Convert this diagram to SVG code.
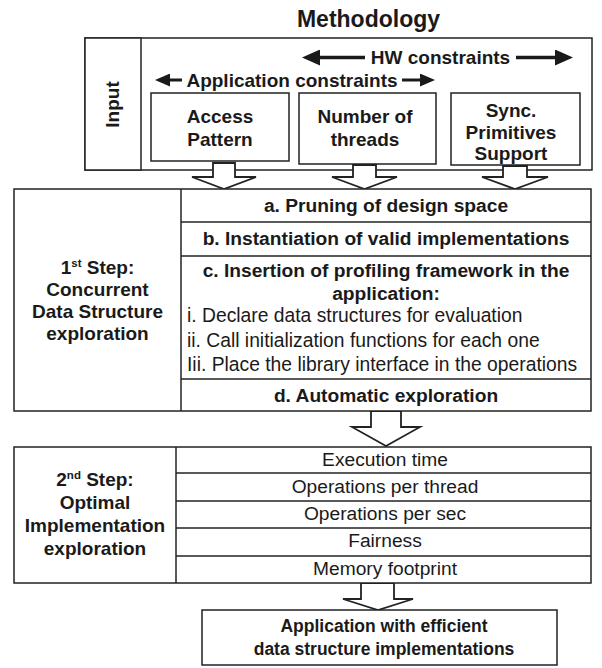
<svg xmlns="http://www.w3.org/2000/svg" width="602" height="668" viewBox="0 0 602 668">
<style>
.box{fill:#fff;stroke:#222;stroke-width:1.5}
.ln{stroke:#222;stroke-width:1.5;fill:none}
.ar{stroke:#1a1a1a;fill:none}
.blk{fill:#fff;stroke:#222;stroke-width:1.8;stroke-linejoin:miter}
.b{font-family:"Liberation Sans",Arial,sans-serif;font-weight:bold;fill:#1a1a1a;text-anchor:middle}
.r{font-family:"Liberation Sans",Arial,sans-serif;fill:#1a1a1a}
.c{text-anchor:middle}
</style>
<defs>
<marker id="big" viewBox="0 0 18 16" refX="10" refY="8" markerWidth="18" markerHeight="16" orient="auto-start-reverse" markerUnits="userSpaceOnUse"><path d="M0,0 L18,8 L0,16 Z" fill="#1a1a1a"/></marker>
<marker id="sml" viewBox="0 0 15 13" refX="8" refY="6.5" markerWidth="15" markerHeight="13" orient="auto-start-reverse" markerUnits="userSpaceOnUse"><path d="M0,0 L15,6.5 L0,13 Z" fill="#1a1a1a"/></marker>
</defs>
<rect width="602" height="668" fill="#fff"/>
<text class="b" x="368.5" y="27" font-size="23">Methodology</text>

<g id="input-panel">
<rect class="box" x="85" y="38" width="507" height="132"/>
<rect class="box" x="85" y="38" width="56" height="132"/>
<text class="b" font-size="19" transform="translate(119,104.5) rotate(-90)">Input</text>
</g>
<g id="hw-constraints">
<line class="ar" x1="310" y1="57.5" x2="365" y2="57.5" stroke-width="3.5" marker-start="url(#big)"/>
<line class="ar" x1="516" y1="57.5" x2="565" y2="57.5" stroke-width="3.5" marker-end="url(#big)"/>
<text class="b" x="440.5" y="64" font-size="19">HW constraints</text>
</g>
<g id="app-constraints">
<line class="ar" x1="162" y1="80" x2="182" y2="80" stroke-width="3" marker-start="url(#sml)"/>
<line class="ar" x1="402" y1="80" x2="428" y2="80" stroke-width="3" marker-end="url(#sml)"/>
<text class="b" x="292" y="86.5" font-size="19">Application constraints</text>
</g>
<g id="access-pattern">
<rect class="box" x="151" y="93" width="138" height="68"/>
<text class="b" x="220" y="123" font-size="19">Access</text>
<text class="b" x="220" y="146" font-size="19">Pattern</text>
</g>
<g id="number-threads">
<rect class="box" x="299" y="93" width="137" height="71"/>
<text class="b" x="365" y="123" font-size="19">Number of</text>
<text class="b" x="365" y="146" font-size="19">threads</text>
</g>
<g id="sync-primitives">
<rect class="box" x="451" y="93" width="129" height="72"/>
<text class="b" x="511" y="117" font-size="19">Sync.</text>
<text class="b" x="511" y="139" font-size="19">Primitives</text>
<text class="b" x="511" y="160" font-size="19">Support</text>
</g>

<g id="connectors">
<path class="blk" d="M213,163 L235,163 L235,177 L256,177 L224,189 L192,177 L213,177 Z"/>
<path class="blk" d="M353,165 L376,165 L376,177 L397,177 L364.5,189 L332,177 L353,177 Z"/>
<path class="blk" d="M503,166 L527,166 L527,177 L548,177 L515,189 L482,177 L503,177 Z"/>
<path class="blk" d="M371,411 L401,411 L401,427 L420,427 L386,446 L352,427 L371,427 Z"/>
<path class="blk" d="M361,583 L394,583 L394,599 L413,599 L378,610 L343,599 L361,599 Z"/>
</g>

<g id="step1">
<rect class="box" x="14" y="189" width="577" height="222"/>
<line class="ln" x1="181" y1="189" x2="181" y2="411"/>
<line class="ln" x1="181" y1="222" x2="591" y2="222"/>
<line class="ln" x1="181" y1="256" x2="591" y2="256"/>
<line class="ln" x1="181" y1="379" x2="591" y2="379"/>
<text class="b" x="97.5" y="274" font-size="19">1<tspan font-size="11.5" dy="-7.5">st</tspan><tspan dy="7.5"> Step:</tspan></text>
<text class="b" x="97.5" y="296" font-size="19">Concurrent</text>
<text class="b" x="97.5" y="318" font-size="19">Data Structure</text>
<text class="b" x="97.5" y="340" font-size="19">exploration</text>
</g>
<g id="step1-a"><text class="b" x="386" y="212" font-size="19.2">a. Pruning of design space</text></g>
<g id="step1-b"><text class="b" x="386" y="245" font-size="19.2">b. Instantiation of valid implementations</text></g>
<g id="step1-c">
<text class="b" x="386" y="277" font-size="19.2">c. Insertion of profiling framework in the</text>
<text class="b" x="386" y="300" font-size="19.2">application:</text>
<text class="r" x="187" y="322" font-size="19.3">i. Declare data structures for evaluation</text>
<text class="r" x="187" y="347" font-size="19.3">ii. Call initialization functions for each one</text>
<text class="r" x="187" y="371" font-size="19.3">Iii. Place the library interface in the operations</text>
</g>
<g id="step1-d"><text class="b" x="386" y="402" font-size="19.2">d. Automatic exploration</text></g>

<g id="step2">
<rect class="box" x="14" y="447" width="577" height="136"/>
<line class="ln" x1="176" y1="447" x2="176" y2="583"/>
<line class="ln" x1="176" y1="473" x2="591" y2="473"/>
<line class="ln" x1="176" y1="501" x2="591" y2="501"/>
<line class="ln" x1="176" y1="528" x2="591" y2="528"/>
<line class="ln" x1="176" y1="556" x2="591" y2="556"/>
<text class="b" x="95" y="486" font-size="19">2<tspan font-size="11.5" dy="-7.5">nd</tspan><tspan dy="7.5">  Step:</tspan></text>
<text class="b" x="95" y="509" font-size="19">Optimal</text>
<text class="b" x="95" y="532" font-size="19">Implementation</text>
<text class="b" x="95" y="555" font-size="19">exploration</text>
</g>
<g id="metric-exec"><text class="r c" x="385" y="466" font-size="19.2">Execution time</text></g>
<g id="metric-opthread"><text class="r c" x="385" y="493" font-size="19.2">Operations per thread</text></g>
<g id="metric-opsec"><text class="r c" x="385" y="520" font-size="19.2">Operations per sec</text></g>
<g id="metric-fair"><text class="r c" x="385" y="547" font-size="19.2">Fairness</text></g>
<g id="metric-mem"><text class="r c" x="385" y="575" font-size="19.2">Memory footprint</text></g>

<g id="result">
<rect class="box" x="202" y="610" width="355" height="55"/>
<text class="b" x="384" y="632" font-size="17.5">Application with efficient</text>
<text class="b" x="384" y="655" font-size="17.5">data structure implementations</text>
</g>
</svg>
